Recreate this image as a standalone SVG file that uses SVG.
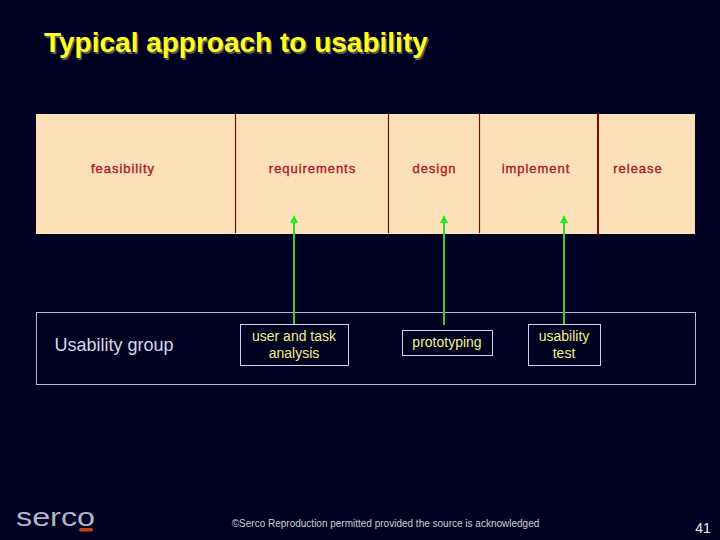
<svg xmlns="http://www.w3.org/2000/svg" width="720" height="540" viewBox="0 0 720 540">
<style>
text{font-family:"Liberation Sans",Arial,sans-serif}
.title{font-size:28px;font-weight:bold;fill:#ffff1a}
.shadow{font-size:28px;font-weight:bold;fill:#5c5c50}
.phase{font-size:13px;fill:#a81828;text-anchor:middle;stroke:#a81828;stroke-width:.35;letter-spacing:.95px}
.box{fill:none;stroke:#d0d0ee;stroke-width:1}
.lab{font-size:14px;fill:#f0f088;text-anchor:middle}
.sep{stroke:#6e0e0e;stroke-width:1.2}
.arrow{stroke:#35d035;stroke-width:2;fill:none}
.head{fill:#1ff01f}
</style>
<rect width="720" height="540" fill="#000020"/>
<g id="title"><text class="shadow" x="45.500" y="53.500">Typical approach to usability</text><text class="title" x="44" y="52">Typical approach to usability</text></g>
<g id="phases">
<rect x="36" y="114" width="659" height="120" fill="#fde0b8"/>
<line class="sep" x1="235.500" y1="113" x2="235.500" y2="233"/>
<line class="sep" x1="388.500" y1="113" x2="388.500" y2="233"/>
<line class="sep" x1="479.500" y1="113" x2="479.500" y2="233"/>
<line class="sep" style="stroke-width:2" x1="598" y1="113" x2="598" y2="235"/>
<text class="phase" x="123" y="173">feasibility</text>
<text class="phase" x="312.500" y="173">requirements</text>
<text class="phase" x="434.500" y="173">design</text>
<text class="phase" x="536" y="173">implement</text>
<text class="phase" x="638" y="173">release</text>
</g>
<g id="usability-group"><rect class="box" style="stroke:#b4b4e6" x="36.500" y="312.500" width="659" height="72"/><text x="114" y="351" font-size="18" fill="#d8d8e8" text-anchor="middle">Usability group</text></g>
<g id="connectors">
<line class="arrow" x1="294" y1="324" x2="294" y2="222"/><polygon class="head" points="294,215 290,223 298,223"/>
<line class="arrow" x1="444" y1="325" x2="444" y2="222"/><polygon class="head" points="444,215 440,223 448,223"/>
<line class="arrow" x1="564" y1="325" x2="564" y2="222"/><polygon class="head" points="564,215 560,223 568,223"/>
</g>
<g id="node-analysis"><rect class="box" x="240.500" y="324.500" width="108" height="41"/><text class="lab" x="294" y="341">user and task</text><text class="lab" x="294" y="358">analysis</text></g>
<g id="node-prototyping"><rect class="box" x="402.500" y="330.500" width="90" height="25"/><text class="lab" x="447" y="347">prototyping</text></g>
<g id="node-test"><rect class="box" x="528.500" y="324.500" width="72" height="41"/><text class="lab" x="564" y="341">usability</text><text class="lab" x="564" y="358">test</text></g>
<g id="logo"><text x="16" y="526" font-size="26" fill="#b4b4c8" textLength="79" lengthAdjust="spacingAndGlyphs">serco</text><rect x="79" y="528" width="14" height="3.500" rx="1.700" fill="#c8401a"/></g>
<g id="footer"><text x="385.500" y="527" font-size="10" fill="#d0d0d0" text-anchor="middle">©Serco Reproduction permitted provided the source is acknowledged</text><text x="703" y="533" font-size="14" fill="#f0f0f0" text-anchor="middle">41</text></g>
</svg>
